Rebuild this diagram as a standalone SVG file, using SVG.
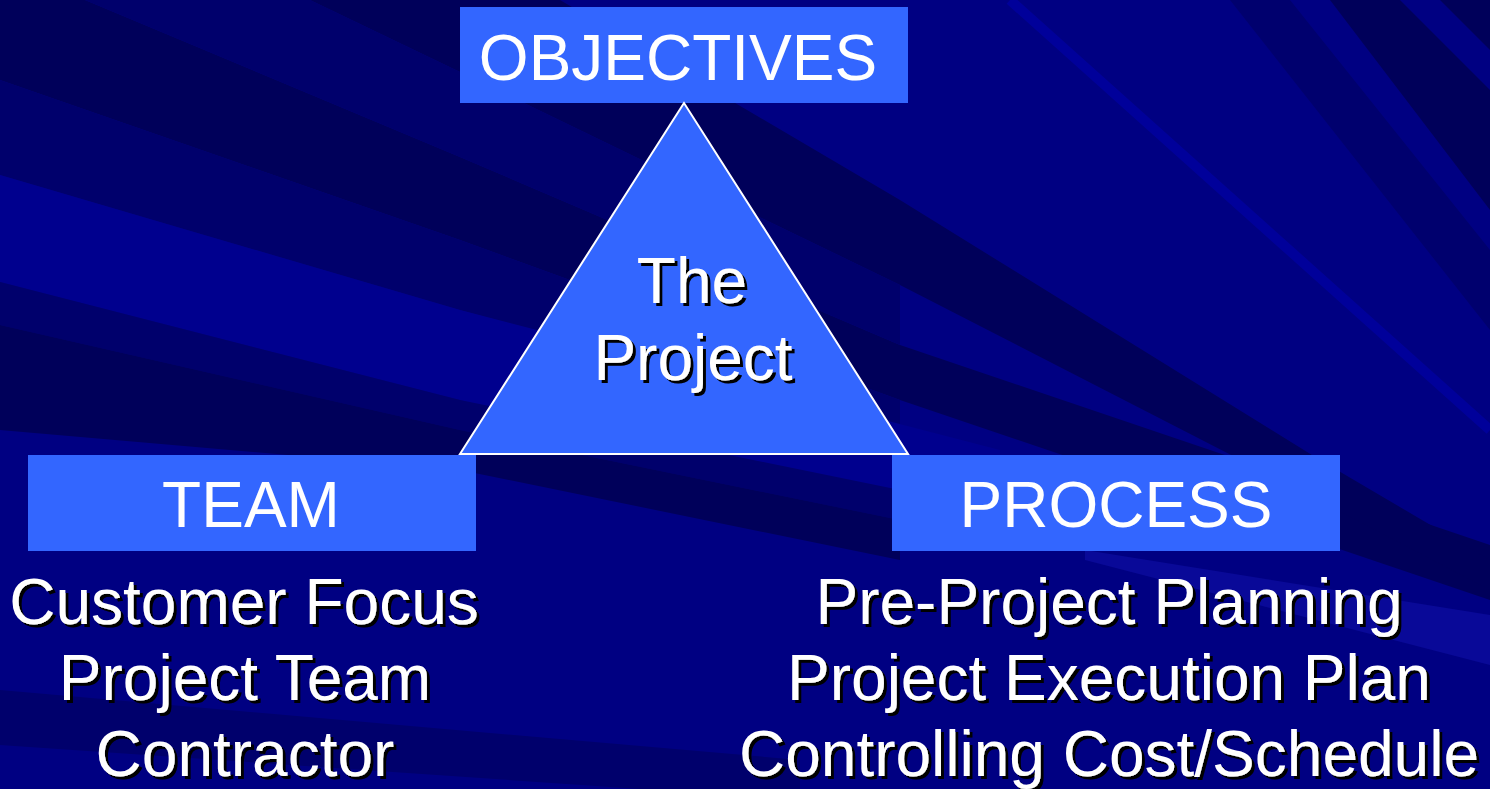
<svg xmlns="http://www.w3.org/2000/svg" width="1490" height="789" viewBox="0 0 1490 789">
<defs>
<style>
.box{fill:#3366ff}
.t{font-family:"Liberation Sans",Arial,sans-serif;font-size:64px;fill:#ffffff;text-anchor:middle}
.s{filter:url(#shadow)}
.dk{fill:#00005a}
.md{fill:#00006c}
.br{fill:#00008e}
</style>
<filter id="shadow" x="-5%" y="-20%" width="110%" height="140%">
<feFlood flood-color="#000000" result="c"/>
<feComposite in="c" in2="SourceAlpha" operator="in" result="sa"/>
<feOffset in="sa" dx="3" dy="3" result="off"/>
<feMerge><feMergeNode in="off"/><feMergeNode in="SourceGraphic"/></feMerge>
</filter>
</defs>
<g id="background">
<rect x="0" y="0" width="1490" height="789" fill="#000082"/>
<polygon class="dk" points="0,0 85,0 460,157 900,345 1490,545 1490,600 900,400 460,240 0,80"/>
<polygon class="dk" points="310,0 560,0 900,200 1320,460 1490,560 1490,590 1280,480 900,285 460,72"/>
<polygon class="md" points="85,0 310,0 460,72 900,285 900,345 460,157"/>
<polygon class="md" points="0,80 460,240 900,400 900,430 460,310 0,175"/>
<polygon class="br" points="0,175 460,310 1000,450 1000,540 460,400 0,282"/>
<polygon class="md" points="0,282 460,400 900,490 900,520 460,430 0,325"/>
<polygon class="dk" points="0,325 460,430 900,520 900,560 460,470 0,430"/>
<polygon class="md" points="0,690 800,760 800,800 0,745"/>
<polygon class="dk" points="1330,0 1400,0 1490,90 1490,210"/>
<polygon class="dk" points="1440,0 1490,0 1490,50"/>
<polygon fill="#00006e" points="1230,0 1290,0 1490,250 1490,330"/>
<polygon fill="#0a0a9a" opacity="0.9" points="1085,550 1490,615 1490,665 1085,560"/>
<line x1="1010" y1="0" x2="1490" y2="430" stroke="#00009a" stroke-width="10"/>
</g>
<g id="connectors"></g>
<g id="objectives">
<rect class="box" x="460" y="7" width="448" height="96"/>
<text class="t" x="678" y="80">OBJECTIVES</text>
</g>
<g id="team">
<rect class="box" x="28" y="455" width="448" height="96"/>
<text class="t" x="251" y="527">TEAM</text>
<text class="t s" x="244" y="624">Customer Focus</text>
<text class="t s" x="245" y="700">Project Team</text>
<text class="t s" x="245" y="776">Contractor</text>
</g>
<g id="process">
<rect class="box" x="892" y="455" width="448" height="96"/>
<text class="t" x="1116" y="527">PROCESS</text>
<text class="t s" x="1109" y="624">Pre-Project Planning</text>
<text class="t s" x="1109" y="700">Project Execution Plan</text>
<text class="t s" x="1109" y="776">Controlling Cost/Schedule</text>
</g>
<g id="project">
<polygon points="684,103 460,454 908,454" fill="#3366ff" stroke="#ffffff" stroke-width="2"/>
<text class="t s" x="692" y="303">The</text>
<text class="t s" x="693" y="380">Project</text>
</g>
</svg>
